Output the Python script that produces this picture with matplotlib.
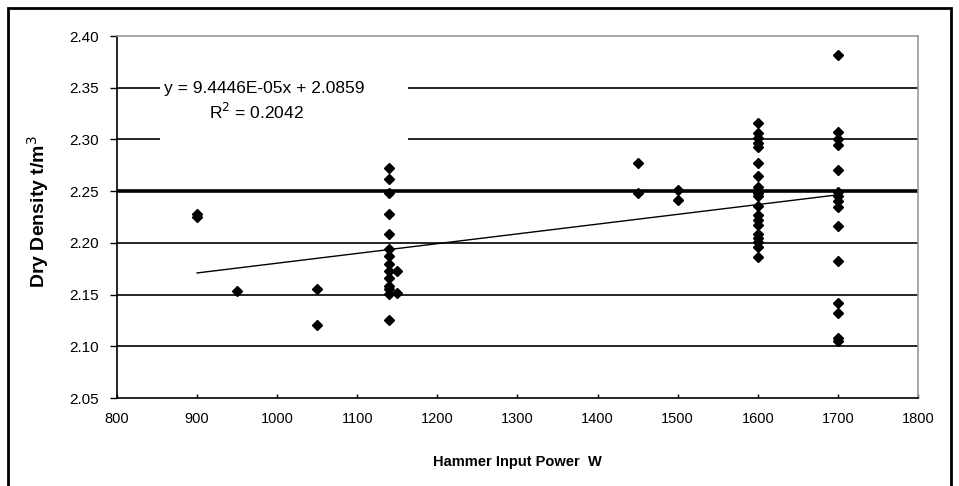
import numpy as np
import matplotlib.pyplot as plt
from matplotlib.patches import Rectangle

FONT = 'Liberation Sans'

# data: hammer power (W) and dry density (t/m3)
power_900 = [900, 900]
dens_900 = [2.228, 2.225]
power_950 = [950]
dens_950 = [2.153]
power_1050 = [1050, 1050]
dens_1050 = [2.155, 2.121]
power_1140 = [1140] * 14
dens_1140 = [2.272, 2.262, 2.248, 2.228, 2.209, 2.194, 2.187, 2.180, 2.173,
             2.166, 2.158, 2.155, 2.151, 2.125]
power_1150 = [1150, 1150]
dens_1150 = [2.173, 2.152]
power_1450 = [1450, 1450]
dens_1450 = [2.277, 2.248]
power_1500 = [1500, 1500]
dens_1500 = [2.251, 2.241]
power_1600 = [1600] * 20
dens_1600 = [2.316, 2.306, 2.301, 2.297, 2.293, 2.277, 2.265, 2.254, 2.250,
             2.248, 2.245, 2.236, 2.227, 2.222, 2.217, 2.209, 2.205, 2.201,
             2.196, 2.186]
power_1700 = [1700] * 15
dens_1700 = [2.382, 2.307, 2.300, 2.295, 2.270, 2.249, 2.245, 2.240, 2.235,
             2.216, 2.182, 2.142, 2.132, 2.105, 2.108]

slope = 9.4446e-05
intercept = 2.0859
trend_x = [900, 1700]

x = np.array(power_900 + power_950 + power_1050 + power_1140 + power_1150 +
             power_1450 + power_1500 + power_1600 + power_1700)
y = np.array(dens_900 + dens_950 + dens_1050 + dens_1140 + dens_1150 +
             dens_1450 + dens_1500 + dens_1600 + dens_1700)

fig = plt.figure(figsize=(9.59, 4.86), dpi=100)
ax = fig.add_axes([117/959, 88/486, 801/959, 362/486])

# outer frame of the picture
fig.patches.append(Rectangle((8/959, -0.05), 943/959, (478/486) + 0.05,
                             transform=fig.transFigure, fill=False,
                             edgecolor='black', linewidth=2))

ax.set_xlim(800, 1800)
ax.set_ylim(2.05, 2.40)
ax.set_xticks(np.arange(800, 1801, 100))
ax.set_yticks(np.arange(2.05, 2.401, 0.05))
ax.set_yticklabels([f'{v:.2f}' for v in np.arange(2.05, 2.401, 0.05)])

for g in [2.10, 2.15, 2.20, 2.30, 2.35]:
    ax.axhline(g, color='black', lw=1.2, zorder=1)
ax.axhline(2.25, color='black', lw=2.6, zorder=1)

tx = np.array(trend_x)
ax.plot(tx, slope * tx + intercept, color='black', lw=1.0, zorder=3)
ax.plot(x, y, 'D', color='black', ms=5, zorder=4)

# white box behind the trendline equation
ax.add_patch(Rectangle((160/959, (486-141)/486), 248/959, 61/486,
                       transform=fig.transFigure, facecolor='white',
                       edgecolor='none', zorder=2))
ax.text(164/959, (486-89)/486, 'y = 9.4446E-05x + 2.0859', transform=fig.transFigure,
        ha='left', va='center', fontname=FONT, fontsize=12.5, zorder=5)
ax.text(256/959, (486-112)/486, 'R$^2$ = 0.2042', transform=fig.transFigure,
        ha='center', va='center', fontname=FONT, fontsize=12.5, zorder=5)

for s in ['left', 'bottom']:
    ax.spines[s].set_color('black')
    ax.spines[s].set_linewidth(1.2)
for s in ['top', 'right']:
    ax.spines[s].set_color('#999999')
    ax.spines[s].set_linewidth(1.2)

ax.tick_params(axis='y', direction='out', length=5, width=1, pad=8)
ax.tick_params(axis='x', direction='in', length=3, width=1, pad=10)
for lab in ax.get_xticklabels():
    lab.set_fontname(FONT)
    lab.set_fontsize(10.5)
for lab in ax.get_yticklabels():
    lab.set_fontname(FONT)
    lab.set_fontsize(11)

fig.text(517/959, (486-462)/486, 'Hammer Input Power  W', ha='center', va='center',
         fontname=FONT, fontweight='bold', fontsize=10.5)
fig.text(38/959, (486-212)/486, 'Dry Density t/m$^3$', ha='center', va='center',
         rotation=90, fontname=FONT, fontweight='bold', fontsize=14)

fig.savefig('out.png', dpi=100)
